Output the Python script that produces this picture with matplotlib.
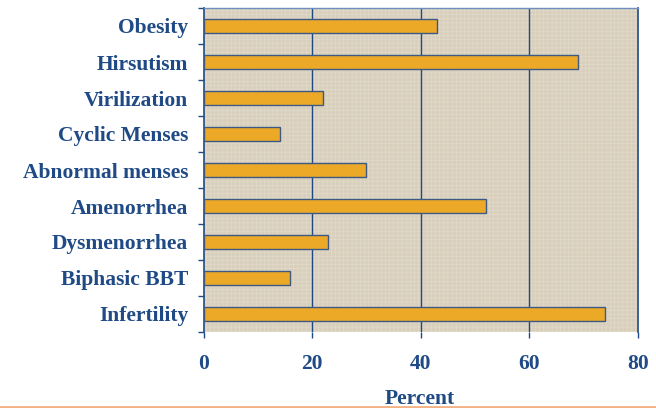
import matplotlib.pyplot as plt
import numpy as np

# dados: percentual de pacientes com cada achado
categorias = ['Obesity', 'Hirsutism', 'Virilization', 'Cyclic Menses',
              'Abnormal menses', 'Amenorrhea', 'Dysmenorrhea',
              'Biphasic BBT', 'Infertility']
percentual = [43, 69, 22, 14, 30, 52, 23, 16, 74]
ticks_x = [0, 20, 40, 60, 80]

azul = '#1f4a85'
fundo = '#d8cfbc'
laranja = '#eca927'

plt.rcParams['font.family'] = ['Liberation Serif', 'DejaVu Serif']
plt.rcParams['hatch.linewidth'] = 0.4
plt.rcParams['hatch.color'] = '#e4dccc'

fig = plt.figure(figsize=(6.56, 4.08), dpi=100)
ax = fig.add_axes([203.5 / 656, 1 - 332 / 408, 434.5 / 656, 324 / 408])
ax.set_facecolor(fundo)

# textura do fundo (trama leve)
ax.add_patch(plt.Rectangle((0, 0), 1, 1, transform=ax.transAxes,
                           facecolor='none', hatch='++++', lw=0, zorder=1))

n = len(categorias)
y = np.arange(n)
ax.barh(y, percentual, height=0.4, color=laranja, edgecolor='#3d5a85',
        linewidth=1.0, zorder=3)

ax.set_xlim(0, 80)
ax.set_ylim(n - 0.5, -0.5)

# linhas de grade verticais
for v in ticks_x[1:-1]:
    ax.axvline(v, color=azul, lw=1.0, zorder=2)

ax.set_xticks(ticks_x)
ax.set_xticklabels([str(t) for t in ticks_x])
ax.set_yticks(np.arange(n + 1) - 0.5)
ax.set_yticklabels([])
ax.set_yticks(y, minor=True)
ax.set_yticklabels(categorias, minor=True)

ax.tick_params(axis='y', which='major', length=4.5, width=1, color=azul,
               direction='out')
ax.tick_params(axis='y', which='minor', length=0, pad=11)
ax.tick_params(axis='x', length=4.5, width=1, color=azul, direction='out',
               pad=11)
for lbl in ax.get_xticklabels() + ax.get_yticklabels(minor=True):
    lbl.set_fontweight('bold')
    lbl.set_fontsize(15.5)
    lbl.set_color(azul)

for lado in ['left', 'right']:
    ax.spines[lado].set_color(azul)
    ax.spines[lado].set_linewidth(1.2)
ax.spines['top'].set_color('#6f8fbf')
ax.spines['top'].set_linewidth(1.0)
ax.spines['bottom'].set_visible(False)

fig.text(420 / 656, 1 - 399 / 408, 'Percent', ha='center', va='center',
         fontsize=15.5, fontweight='bold', color=azul)

# faixa laranja no rodapé
fig.add_artist(plt.Line2D([0, 1], [1 - 406.5 / 408] * 2, color='#f4b183',
                          lw=2, transform=fig.transFigure))

fig.savefig('out.png', dpi=100)
